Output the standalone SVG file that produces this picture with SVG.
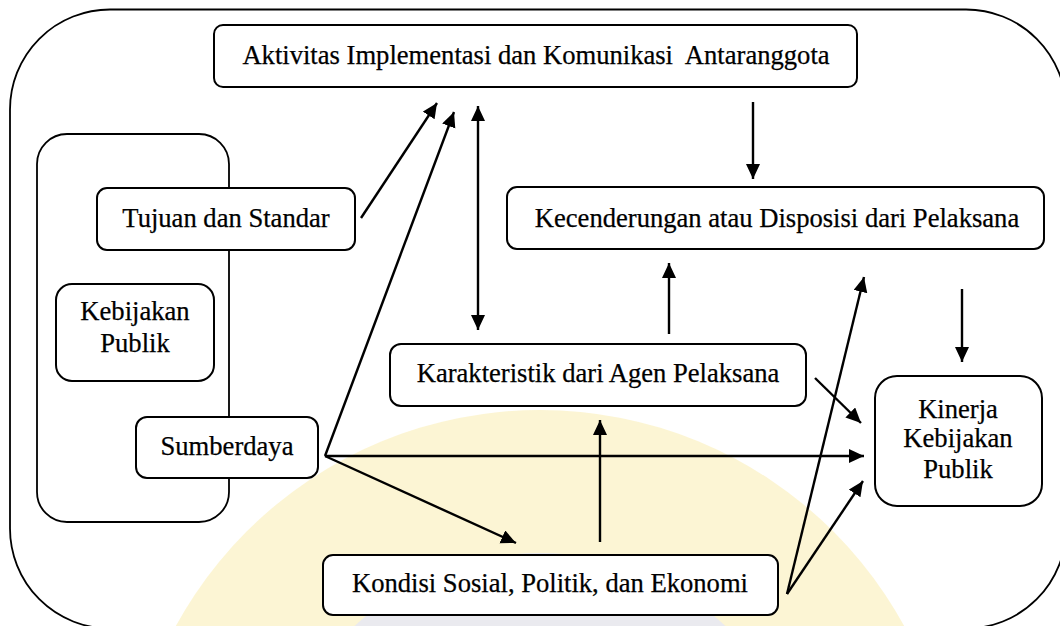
<svg xmlns="http://www.w3.org/2000/svg" width="1060" height="626" viewBox="0 0 1060 626">
  <defs>
    <marker id="ah" markerUnits="userSpaceOnUse" markerWidth="16" markerHeight="15" refX="15" refY="7" orient="auto-start-reverse">
      <path d="M0,0 L15,7 L0,14 Z" fill="#000"/>
    </marker>
    <style>
      .box { fill: #fff; stroke: #000; stroke-width: 2; }
      .frame { fill: none; stroke: #000; stroke-width: 1.8; }
      .lbl { font-size: 26.6px; fill: #000; stroke: #000; stroke-width: 0.25; text-anchor: middle; }
      .con { fill: none; stroke: #000; stroke-width: 2.4; marker-end: url(#ah); }
    </style>
  </defs>
  <rect width="1060" height="626" fill="#fff"/>

  <g id="watermark">
    <circle cx="540" cy="825" r="415" fill="#fcf3cc" opacity="0.85"/>
    <circle cx="540" cy="825" r="272" fill="#e6e7f3" opacity="0.85"/>
  </g>

  <rect id="outer-frame" class="frame" x="10" y="9.5" width="1056" height="619" rx="100" ry="100"/>
  <rect id="policy-container" class="frame" x="37" y="134" width="192" height="388" rx="30" ry="30"/>

  <g id="connectors">
    <path class="con" d="M361,218 L437,103"/>
    <path class="con" d="M325,456 L454,112"/>
    <path class="con" d="M478,330 L478,106" style="marker-start:url(#ah)"/>
    <path class="con" d="M753,102 L753,179"/>
    <path class="con" d="M669,334 L669,263"/>
    <path class="con" d="M787,594 L864,277"/>
    <path class="con" d="M962,289 L962,362"/>
    <path class="con" d="M815,378 L861,423"/>
    <path class="con" d="M325,456 L864,456"/>
    <path class="con" d="M600,542 L600,420"/>
    <path class="con" d="M325,456 L516,543"/>
    <path class="con" d="M787,594 L863,481"/>
  </g>

  <g font-family="'Liberation Serif', 'Times New Roman', Times, 'DejaVu Serif', serif">
  <g id="aktivitas">
    <rect class="box" x="214" y="25" width="643" height="62" rx="9"/>
    <text class="lbl" x="536" y="64" xml:space="preserve">Aktivitas Implementasi dan Komunikasi  Antaranggota</text>
  </g>
  <g id="tujuan">
    <rect class="box" x="97" y="188" width="258" height="62" rx="10"/>
    <text class="lbl" x="226" y="227">Tujuan dan Standar</text>
  </g>
  <g id="kebijakan">
    <rect class="box" x="56" y="284" width="158" height="97" rx="16"/>
    <text class="lbl" x="135" y="320">Kebijakan</text>
    <text class="lbl" x="135" y="352">Publik</text>
  </g>
  <g id="sumberdaya">
    <rect class="box" x="136" y="417" width="182" height="61" rx="11"/>
    <text class="lbl" x="227" y="455">Sumberdaya</text>
  </g>
  <g id="kecenderungan">
    <rect class="box" x="507" y="187" width="537" height="62" rx="10"/>
    <text class="lbl" x="777" y="227">Kecenderungan atau Disposisi dari Pelaksana</text>
  </g>
  <g id="karakteristik">
    <rect class="box" x="390" y="344" width="416" height="62" rx="11"/>
    <text class="lbl" x="598" y="382">Karakteristik dari Agen Pelaksana</text>
  </g>
  <g id="kinerja">
    <rect class="box" x="875" y="376" width="167" height="130" rx="22"/>
    <text class="lbl" x="958" y="418">Kinerja</text>
    <text class="lbl" x="958" y="447">Kebijakan</text>
    <text class="lbl" x="958" y="478">Publik</text>
  </g>
  <g id="kondisi">
    <rect class="box" x="323" y="555" width="455" height="60" rx="10"/>
    <text class="lbl" x="550" y="592">Kondisi Sosial, Politik, dan Ekonomi</text>
  </g>
  </g>
</svg>
